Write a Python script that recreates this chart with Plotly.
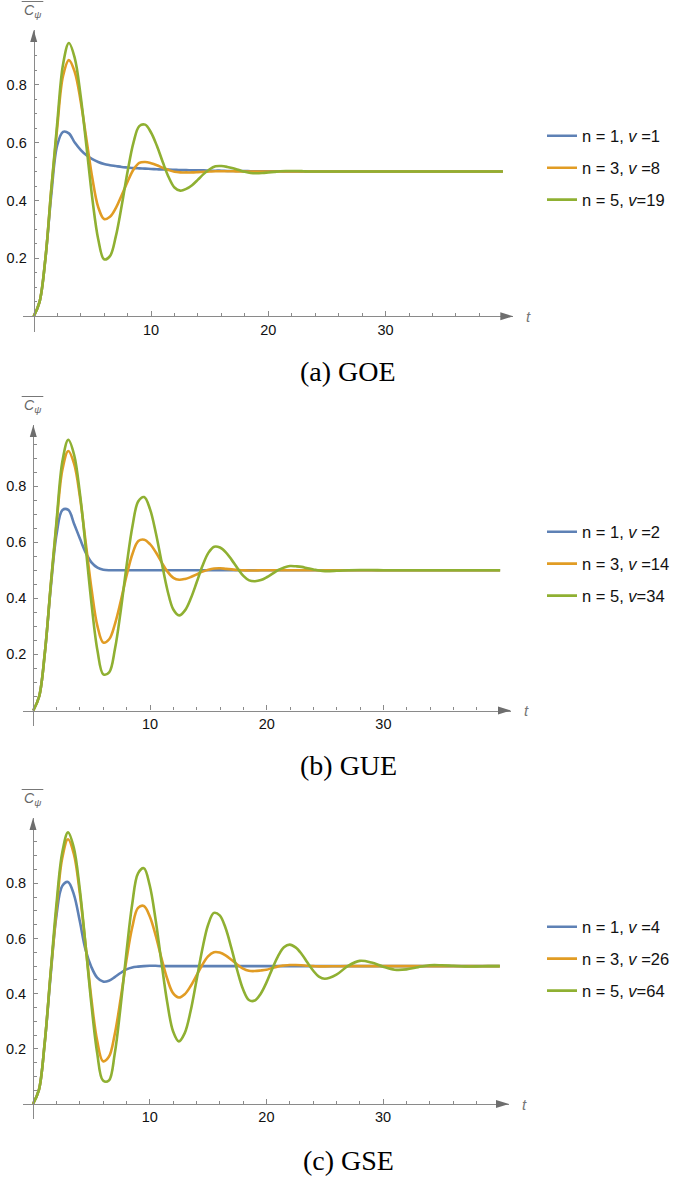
import plotly.graph_objects as go

W, H = 684, 1177

# ---------------- data ----------------
T = [0, 0.5, 1, 1.5, 2, 2.5, 3, 3.5, 4, 4.5,
     5, 5.5, 6, 6.5, 7, 7.5, 8, 8.5, 9, 9.5,
     10, 10.5, 11, 11.5, 12, 12.5, 13, 13.5, 14, 14.5,
     15, 15.5, 16, 16.5, 17, 17.5, 18, 18.5, 19, 19.5,
     20, 20.5, 21, 21.5, 22, 22.5, 23, 23.5, 24, 24.5,
     25, 26, 27, 28, 29, 30, 31, 32, 33, 34,
     35, 36, 37, 38, 39, 40]

goe_n1 = [0, 0.05, 0.20, 0.42, 0.59, 0.637, 0.632, 0.600, 0.575, 0.556,
          0.543, 0.533, 0.526, 0.522, 0.519, 0.516, 0.514, 0.512, 0.511, 0.510,
          0.509, 0.508, 0.507, 0.507, 0.506, 0.505, 0.505, 0.504, 0.504, 0.504,
          0.503, 0.503, 0.503, 0.502, 0.502, 0.502, 0.502, 0.501, 0.501, 0.501,
          0.501, 0.501, 0.501, 0.500, 0.500, 0.5, 0.5, 0.5, 0.5, 0.5,
          0.5, 0.5, 0.5, 0.5, 0.5, 0.5, 0.5, 0.5, 0.5, 0.5,
          0.5, 0.5, 0.5, 0.5, 0.5, 0.5]
goe_n3 = [0, 0.05, 0.20, 0.44, 0.65, 0.83, 0.885, 0.844, 0.744, 0.610,
          0.477, 0.377, 0.336, 0.344, 0.374, 0.418, 0.465, 0.506, 0.530, 0.533,
          0.529, 0.522, 0.513, 0.505, 0.499, 0.497, 0.497, 0.497, 0.498, 0.499,
          0.500, 0.501, 0.501, 0.501, 0.501, 0.500, 0.5, 0.5, 0.5, 0.5,
          0.5, 0.5, 0.5, 0.5, 0.5, 0.5, 0.5, 0.5, 0.5, 0.5,
          0.5, 0.5, 0.5, 0.5, 0.5, 0.5, 0.5, 0.5, 0.5, 0.5,
          0.5, 0.5, 0.5, 0.5, 0.5, 0.5]
goe_n5 = [0, 0.05, 0.20, 0.44, 0.665, 0.87, 0.944, 0.892, 0.762, 0.586,
          0.406, 0.266, 0.197, 0.208, 0.276, 0.382, 0.499, 0.599, 0.657, 0.662,
          0.635, 0.589, 0.533, 0.481, 0.445, 0.434, 0.440, 0.453, 0.472, 0.492,
          0.508, 0.518, 0.519, 0.516, 0.511, 0.505, 0.499, 0.495, 0.494, 0.495,
          0.497, 0.499, 0.501, 0.502, 0.502, 0.502, 0.501, 0.500, 0.500, 0.500,
          0.5, 0.5, 0.5, 0.5, 0.5, 0.5, 0.5, 0.5, 0.5, 0.5,
          0.5, 0.5, 0.5, 0.5, 0.5, 0.5]

gue_n1 = [0, 0.05, 0.21, 0.44, 0.63, 0.715, 0.715, 0.665, 0.612, 0.562,
          0.527, 0.509, 0.502, 0.500, 0.5, 0.5, 0.5, 0.5, 0.5, 0.5,
          0.5, 0.5, 0.5, 0.5, 0.5, 0.5, 0.5, 0.5, 0.5, 0.5,
          0.5, 0.5, 0.5, 0.5, 0.5, 0.5, 0.5, 0.5, 0.5, 0.5,
          0.5, 0.5, 0.5, 0.5, 0.5, 0.5, 0.5, 0.5, 0.5, 0.5,
          0.5, 0.5, 0.5, 0.5, 0.5, 0.5, 0.5, 0.5, 0.5, 0.5,
          0.5, 0.5, 0.5, 0.5, 0.5, 0.5]
gue_n3 = [0, 0.05, 0.21, 0.45, 0.67, 0.86, 0.925, 0.879, 0.760, 0.596,
          0.430, 0.300, 0.242, 0.254, 0.309, 0.391, 0.482, 0.559, 0.604, 0.609,
          0.593, 0.564, 0.528, 0.495, 0.473, 0.466, 0.469, 0.476, 0.485, 0.495,
          0.502, 0.506, 0.507, 0.505, 0.503, 0.501, 0.500, 0.499, 0.499, 0.500,
          0.5, 0.5, 0.5, 0.5, 0.5, 0.5, 0.5, 0.5, 0.5, 0.5,
          0.5, 0.5, 0.5, 0.5, 0.5, 0.5, 0.5, 0.5, 0.5, 0.5,
          0.5, 0.5, 0.5, 0.5, 0.5, 0.5]
gue_n5 = [0, 0.05, 0.21, 0.45, 0.68, 0.89, 0.965, 0.911, 0.772, 0.578,
          0.376, 0.213, 0.129, 0.136, 0.220, 0.358, 0.518, 0.658, 0.746, 0.761,
          0.718, 0.633, 0.528, 0.428, 0.360, 0.339, 0.357, 0.400, 0.457, 0.516,
          0.562, 0.584, 0.581, 0.564, 0.537, 0.507, 0.480, 0.464, 0.461, 0.465,
          0.475, 0.488, 0.501, 0.510, 0.515, 0.514, 0.512, 0.507, 0.503, 0.499,
          0.497, 0.498, 0.500, 0.501, 0.501, 0.500, 0.5, 0.5, 0.5, 0.5,
          0.5, 0.5, 0.5, 0.5, 0.5, 0.5]

gse_n1 = [0, 0.05, 0.22, 0.46, 0.68, 0.79, 0.805, 0.760, 0.665, 0.560,
          0.497, 0.458, 0.444, 0.447, 0.460, 0.475, 0.488, 0.495, 0.498, 0.500,
          0.501, 0.501, 0.5, 0.5, 0.5, 0.5, 0.5, 0.5, 0.5, 0.5,
          0.5, 0.5, 0.5, 0.5, 0.5, 0.5, 0.5, 0.5, 0.5, 0.5,
          0.5, 0.5, 0.5, 0.5, 0.5, 0.5, 0.5, 0.5, 0.5, 0.5,
          0.5, 0.5, 0.5, 0.5, 0.5, 0.5, 0.5, 0.5, 0.5, 0.5,
          0.5, 0.5, 0.5, 0.5, 0.5, 0.5]
gse_n3 = [0, 0.05, 0.22, 0.47, 0.70, 0.89, 0.960, 0.907, 0.768, 0.578,
          0.383, 0.229, 0.155, 0.171, 0.252, 0.379, 0.520, 0.640, 0.711, 0.718,
          0.681, 0.613, 0.530, 0.454, 0.402, 0.386, 0.398, 0.427, 0.465, 0.504,
          0.535, 0.550, 0.549, 0.539, 0.523, 0.506, 0.491, 0.483, 0.482, 0.484,
          0.487, 0.493, 0.499, 0.502, 0.504, 0.504, 0.503, 0.501, 0.500, 0.499,
          0.499, 0.4995, 0.5, 0.5, 0.5, 0.5, 0.5, 0.5, 0.5, 0.5,
          0.5, 0.5, 0.5, 0.5, 0.5, 0.5]
gse_n5 = [0, 0.05, 0.22, 0.47, 0.72, 0.91, 0.985, 0.929, 0.782, 0.579,
          0.363, 0.185, 0.085, 0.085, 0.181, 0.350, 0.547, 0.724, 0.836, 0.855,
          0.793, 0.670, 0.516, 0.369, 0.264, 0.227, 0.257, 0.336, 0.446, 0.559,
          0.649, 0.693, 0.684, 0.638, 0.565, 0.485, 0.416, 0.377, 0.375, 0.399,
          0.440, 0.490, 0.536, 0.568, 0.578, 0.568, 0.545, 0.514, 0.484, 0.462,
          0.454, 0.469, 0.501, 0.519, 0.513, 0.498, 0.487, 0.488, 0.496, 0.503,
          0.503, 0.501, 0.499, 0.499, 0.500, 0.500]

goe_labels = ["n = 1, <i>v</i> =1", "n = 3, <i>v</i> =8", "n = 5, <i>v</i>=19"]
gue_labels = ["n = 1, <i>v</i> =2", "n = 3, <i>v</i> =14", "n = 5, <i>v</i>=34"]
gse_labels = ["n = 1, <i>v</i> =4", "n = 3, <i>v</i> =26", "n = 5, <i>v</i>=64"]
captions = ["(a) GOE", "(b) GUE", "(c) GSE"]

x_major = [10, 20, 30]
x_minor = [2, 4, 6, 8, 12, 14, 16, 18, 22, 24, 26, 28, 32, 34, 36, 38]
y_major = [0.2, 0.4, 0.6, 0.8]
y_major_text = ["0.2", "0.4", "0.6", "0.8"]
y_minor = [0.05, 0.1, 0.15, 0.25, 0.3, 0.35, 0.45, 0.5, 0.55, 0.65, 0.7, 0.75, 0.85, 0.9, 0.95]

for s in (goe_n1, goe_n3, goe_n5, gue_n1, gue_n3, gue_n5, gse_n1, gse_n3, gse_n5):
    assert len(s) == len(T)

# ---------------- styling / geometry ----------------
COLORS = ["#5E81B5", "#E19C24", "#8FB032"]
AX = "#8a8a8a"
ARROW = "#6e6e6e"
SANS = "Liberation Sans, Arial, sans-serif"

# pixel geometry of each panel (origin px, px per unit, axis extents)
GEOM = [
    dict(x0=33.7, xs=11.73, y0=316.3, ys=289.5, xl=22.7, xr=513.3, yb=331.5, yt=30, leg=168, cap=372),
    dict(x0=33.3, xs=11.67, y0=710.5, ys=280.5, xl=22.7, xr=511.0, yb=725.5, yt=425, leg=564, cap=766),
    dict(x0=33.0, xs=11.67, y0=1104.0, ys=275.8, xl=22.7, xr=509.0, yb=1119.0, yt=818, leg=959, cap=1160),
]
SERIES = [(goe_n1, goe_n3, goe_n5), (gue_n1, gue_n3, gue_n5), (gse_n1, gse_n3, gse_n5)]
LABELS = [goe_labels, gue_labels, gse_labels]


def px(x):
    return x / W


def py(y):
    return (H - y) / H


fig = go.Figure()
shapes = []
annotations = []
layout = {}

for i, g in enumerate(GEOM):
    n = i + 1
    xa = "x" if n == 1 else f"x{n}"
    ya = "y" if n == 1 else f"y{n}"
    lg = "legend" if n == 1 else f"legend{n}"
    xr0 = (g["xl"] - g["x0"]) / g["xs"]
    xr1 = (g["xr"] - g["x0"]) / g["xs"]
    yr0 = (g["y0"] - g["yb"]) / g["ys"]
    yr1 = (g["y0"] - g["yt"]) / g["ys"]

    for k, ys in enumerate(SERIES[i]):
        fig.add_trace(go.Scatter(
            x=T, y=ys, mode="lines", name=LABELS[i][k],
            line=dict(color=COLORS[k], width=2.6, shape="spline", smoothing=1.0),
            xaxis=xa, yaxis=ya, legend=lg, legendgroup=f"p{n}s{k}",
            hoverinfo="skip",
        ))

    layout["xaxis" if n == 1 else f"xaxis{n}"] = dict(
        domain=[px(g["xl"]), px(g["xr"])], range=[xr0, xr1],
        anchor="free", position=py(g["y0"]),
        showline=True, linecolor=AX, linewidth=1.1,
        showgrid=False, zeroline=False,
        tickmode="array", tickvals=x_major, ticktext=[str(v) for v in x_major],
        ticks="inside", ticklen=5, tickwidth=1, tickcolor=AX,
        tickfont=dict(family=SANS, size=14.5, color="#111"),
        minor=dict(tickmode="array", tickvals=x_minor, ticks="inside",
                   ticklen=3, tickwidth=1, tickcolor=AX, showgrid=False),
        fixedrange=True,
    )
    layout["yaxis" if n == 1 else f"yaxis{n}"] = dict(
        domain=[py(g["yb"]), py(g["yt"])], range=[yr0, yr1],
        anchor="free", position=px(g["x0"]),
        showline=True, linecolor=AX, linewidth=1.1,
        showgrid=False, zeroline=False,
        tickmode="array", tickvals=y_major, ticktext=y_major_text,
        ticks="inside", ticklen=4, tickwidth=1, tickcolor=AX,
        tickfont=dict(family=SANS, size=14.5, color="#111"),
        ticklabelstandoff=4,
        minor=dict(tickmode="array", tickvals=y_minor, ticks="inside",
                   ticklen=2.5, tickwidth=1, tickcolor=AX, showgrid=False),
        fixedrange=True,
    )
    layout[lg] = dict(
        x=px(542), xanchor="left", y=py(g["leg"]), yanchor="middle",
        font=dict(family=SANS, size=16.5, color="#111"),
        bgcolor="rgba(0,0,0,0)", tracegroupgap=7.5, itemwidth=30,
        traceorder="grouped",
    )

    # arrowheads of the axes
    shapes.append(dict(type="path", xref=xa, yref=ya, xsizemode="pixel", ysizemode="pixel",
                       xanchor=xr1, yanchor=0, path="M-13,-4 L0,0 L-13,4 Z",
                       fillcolor=ARROW, line=dict(color="rgba(0,0,0,0)", width=0)))
    shapes.append(dict(type="path", xref=xa, yref=ya, xsizemode="pixel", ysizemode="pixel",
                       xanchor=0, yanchor=yr1, path="M-3.5,-12 L0,0 L3.5,-12 Z",
                       fillcolor=ARROW, line=dict(color="rgba(0,0,0,0)", width=0)))
    # overline of the y-axis label
    shapes.append(dict(type="line", xref="paper", yref="paper",
                       x0=px(21.7), x1=px(43.3), y0=py(g["yt"] - 28.5), y1=py(g["yt"] - 28.5),
                       line=dict(color="#777", width=1)))

    annotations.append(dict(text="<i>C</i><sub><i>ψ</i></sub>", xref="paper", yref="paper",
                            x=px(32.5), y=py(g["yt"] - 19), xanchor="center", yanchor="middle",
                            showarrow=False, font=dict(family=SANS, size=14, color="#666")))
    annotations.append(dict(text="<i>t</i>", xref="paper", yref="paper",
                            x=px(g["xr"] + 15), y=py(g["y0"]), xanchor="center", yanchor="middle",
                            showarrow=False, font=dict(family=SANS, size=15, color="#777")))
    annotations.append(dict(text=captions[i], xref="paper", yref="paper",
                            x=px(348), y=py(g["cap"]), xanchor="center", yanchor="middle",
                            showarrow=False, font=dict(family="Liberation Serif, serif", size=28, color="#000")))

fig.update_layout(
    width=W, height=H, autosize=False,
    margin=dict(l=0, r=0, t=0, b=0),
    paper_bgcolor="white", plot_bgcolor="white",
    showlegend=True, shapes=shapes, annotations=annotations,
    **layout,
)

fig.write_html("out.html", config={"displayModeBar": False},
               post_script="document.body.style.margin='0';")
